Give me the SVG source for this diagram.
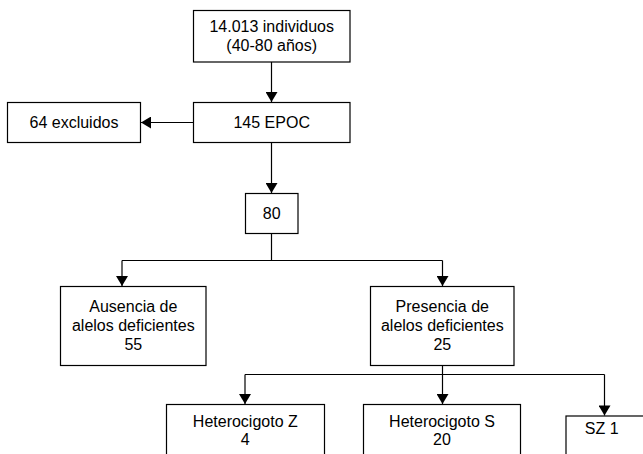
<svg xmlns="http://www.w3.org/2000/svg" width="643" height="454" viewBox="0 0 643 454">
<style>
.box{fill:#fff;stroke:#000;stroke-width:1.2}
.ln{fill:none;stroke:#000;stroke-width:1.2}
text{font-family:"Liberation Sans",Arial,Helvetica,sans-serif;font-size:16px;fill:#000;text-anchor:middle}
</style>
<defs>
<marker id="arr" markerUnits="userSpaceOnUse" markerWidth="12" markerHeight="12" viewBox="0 0 10 12" refX="10" refY="6" orient="auto">
<path d="M0,0 L10,6 L0,12 z" fill="#000"/>
</marker>
</defs>
<rect width="643" height="454" fill="#fff"/>
<g id="connectors">
<line class="ln" x1="271.5" y1="62" x2="271.5" y2="102" marker-end="url(#arr)"/>
<line class="ln" x1="193.5" y1="122.5" x2="141" y2="122.5" marker-end="url(#arr)"/>
<line class="ln" x1="271.5" y1="142.5" x2="271.5" y2="193" marker-end="url(#arr)"/>
<line class="ln" x1="271.5" y1="233.5" x2="271.5" y2="260.5"/>
<line class="ln" x1="122" y1="260.5" x2="442.5" y2="260.5"/>
<line class="ln" x1="122" y1="260.5" x2="122" y2="286" marker-end="url(#arr)"/>
<line class="ln" x1="442.5" y1="260.5" x2="442.5" y2="286" marker-end="url(#arr)"/>
<line class="ln" x1="442.5" y1="365.5" x2="442.5" y2="374.5"/>
<line class="ln" x1="245" y1="374.5" x2="604.5" y2="374.5"/>
<line class="ln" x1="245" y1="374.5" x2="245" y2="404" marker-end="url(#arr)"/>
<line class="ln" x1="442.5" y1="374.5" x2="442.5" y2="404" marker-end="url(#arr)"/>
<line class="ln" x1="604.5" y1="374.5" x2="604.5" y2="415.5" marker-end="url(#arr)"/>
</g>
<g id="n-individuos">
<rect class="box" x="193.5" y="10.5" width="156.5" height="51.5"/>
<text x="271.7" y="31.7">14.013 individuos</text>
<text x="271.7" y="50.5">(40-80 años)</text>
</g>
<g id="n-epoc">
<rect class="box" x="193.5" y="102.5" width="156.5" height="40"/>
<text x="271.7" y="127.8">145 EPOC</text>
</g>
<g id="n-excluidos">
<rect class="box" x="7.5" y="102.5" width="133" height="40"/>
<text x="74" y="127.8">64 excluidos</text>
</g>
<g id="n-80">
<rect class="box" x="245.5" y="193.5" width="52.5" height="40"/>
<text x="271.7" y="219">80</text>
</g>
<g id="n-ausencia">
<rect class="box" x="60.5" y="286.5" width="145.5" height="79"/>
<text x="133.3" y="311.7">Ausencia de</text>
<text x="133.3" y="330.7">alelos deficientes</text>
<text x="133.3" y="349.9">55</text>
</g>
<g id="n-presencia">
<rect class="box" x="370.5" y="286.5" width="143.5" height="79"/>
<text x="442.3" y="311.7">Presencia de</text>
<text x="442.3" y="330.7">alelos deficientes</text>
<text x="442.3" y="349.9">25</text>
</g>
<g id="n-hetz">
<rect class="box" x="166.5" y="404.5" width="158" height="60"/>
<text x="245.3" y="426.7">Heterocigoto Z</text>
<text x="245.3" y="445">4</text>
</g>
<g id="n-hets">
<rect class="box" x="363.5" y="404.5" width="157" height="60"/>
<text x="442" y="426.7">Heterocigoto S</text>
<text x="442" y="445">20</text>
</g>
<g id="n-sz">
<rect class="box" x="566" y="416" width="80" height="60"/>
<text x="601.7" y="433.5">SZ 1</text>
</g>
</svg>
